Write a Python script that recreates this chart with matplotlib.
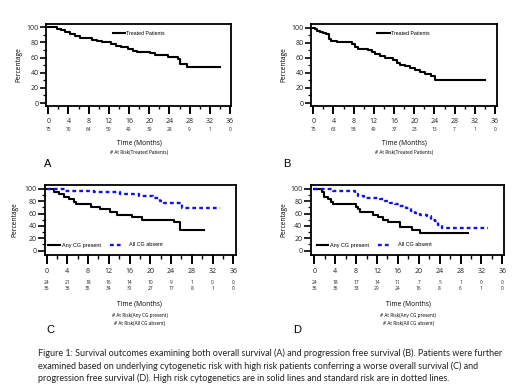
import matplotlib
matplotlib.use("Agg")
import matplotlib.pyplot as plt
from matplotlib.lines import Line2D
from matplotlib.ticker import MultipleLocator
import matplotlib.transforms as mtransforms

W, H = 520, 389
fig = plt.figure(figsize=(W / 100, H / 100), dpi=100)
fig.patch.set_facecolor("white")

TICKFONT = "Open Sans"
LEGFONT = "Liberation Sans"
BLUE = "#1414e0"

# ---------------- data ----------------
months_ticks = [0, 4, 8, 12, 16, 20, 24, 28, 32, 36]

A_times = [0, 1.65, 2.6, 3.3, 4.3, 5.3, 6.3, 8.6, 9.6, 10.6, 12.5, 13.5, 14.5, 15.8,
           16.8, 17.5, 20.1, 21.1, 23.8, 25.7, 26.1, 27.4]
A_surv = [100, 98, 96.5, 94, 91, 88, 85.5, 83, 81.5, 80, 78, 75.5, 73.5, 71,
          68.5, 67, 65.5, 63, 61, 58.5, 52, 47]
A_end = 34
A_risk = [75, 70, 64, 59, 49, 39, 28, 9, 1, 0]

B_times = [0, 0.33, 0.8, 1.3, 1.85, 2.5, 3.2, 3.6, 4.6, 7.6, 8.25, 8.9, 10.9, 11.55,
           12.2, 13.2, 14.2, 15.8, 16.5, 17.2, 18.2, 19.1, 20.1, 21.1, 22.1, 23.4, 24.1]
B_surv = [100, 98, 96, 94, 93, 91, 85.5, 83, 81.5, 78, 74.5, 72, 70, 68,
          65.5, 63, 60, 56.5, 53.5, 51, 49, 47, 44, 41, 39, 36, 30.5]
B_end = 34
B_risk = [75, 63, 58, 49, 37, 23, 13, 7, 1, 0]

C_any_times = [0, 1.5, 2.4, 3.3, 4.3, 5.3, 5.6, 8.5, 10.3, 12.3, 13.5, 16.5, 18.4, 24.5, 25.8]
C_any_surv = [100, 95.8, 91.7, 87.5, 83.3, 79.2, 75, 70.8, 66.7, 62.5, 58.3, 54.2, 50, 45.8, 33.3]
C_any_end = 30.3
C_abs_times = [0, 3.5, 9.2, 14.2, 17.8, 20.6, 21.9, 22.6, 26.1]
C_abs_surv = [100, 97.2, 94.4, 91.7, 88.9, 86.1, 80.6, 77.8, 69.4]
C_abs_end = 33.5
C_risk_any = [24, 21, 18, 16, 14, 10, 9, 1, 0, 0]
C_risk_abs = [36, 36, 35, 34, 31, 27, 17, 8, 1, 0]

D_any_times = [0, 1.5, 1.9, 2.6, 3.2, 3.5, 7.9, 8.4, 8.8, 11.2, 12.2, 13.1, 14.1, 16.5, 18.8, 20.2]
D_any_surv = [100, 95.8, 87.5, 83.3, 79.2, 75, 70.8, 66.7, 62.5, 58.3, 54.2, 50, 45.8, 37.5, 33.3, 29.2]
D_any_end = 29.5
D_abs_times = [0, 3.5, 7.7, 8.3, 9.6, 12.5, 13.5, 14.4, 15.4, 16.3, 17.6, 18.6, 19.2, 20.2,
               21.5, 22.4, 23.1, 23.7, 24.4]
D_abs_surv = [100, 97.2, 91.7, 88.9, 86.1, 83.3, 80.6, 77.8, 75, 72.2, 69.4, 63.9, 61.1, 58.3,
              55.6, 50, 47.2, 41.7, 36.1]
D_abs_end = 33.3
D_risk_any = [24, 18, 17, 14, 11, 7, 5, 1, 0, 0]
D_risk_abs = [36, 36, 33, 29, 24, 16, 8, 6, 1, 0]

caption_lines = [
    "Figure 1: Survival outcomes examining both overall survival (A) and progression free survival (B). Patients were further",
    "examined based on underlying cytogenetic risk with high risk patients conferring a worse overall survival (C) and",
    "progression free survival (D). High risk cytogenetics are in solid lines and standard risk are in dotted lines.",
]


def fy(y):
    return 1 - y / H


def fx(x):
    return x / W


def make_axes(left, right, top, bottom, p0, p36, q0, q100, xtl, ytl):
    ax = fig.add_axes([left / W, 1 - bottom / H, (right - left) / W, (bottom - top) / H])
    sx = (p36 - p0) / 36.0
    sy = (q0 - q100) / 100.0
    ax.set_xlim(0 - (p0 - left) / sx, 36 + (right - p36) / sx)
    ax.set_ylim(0 - (bottom - q0) / sy, 100 + (q100 - top) / sy)
    ax.set_xticks(months_ticks)
    ax.set_yticks([0, 20, 40, 60, 80, 100])
    ax.xaxis.set_minor_locator(MultipleLocator(2))
    ax.yaxis.set_minor_locator(MultipleLocator(10))
    ax.tick_params(axis="x", which="major", length=xtl, width=1.4, direction="out",
                   labelsize=5, pad=3.0, top=False)
    ax.tick_params(axis="x", which="minor", length=xtl * 0.45, width=1.0, direction="out", top=False)
    ax.tick_params(axis="y", which="major", length=ytl, width=1.2, direction="out",
                   labelsize=5, pad=1.2, right=False)
    ax.tick_params(axis="y", which="minor", length=ytl * 0.5, width=0.9, direction="out", right=False)
    for lab in ax.get_xticklabels() + ax.get_yticklabels():
        lab.set_fontfamily(TICKFONT)
        lab.set_color("#222222")
    for sp in ax.spines.values():
        sp.set_linewidth(1.3)
    return ax


def km(ax, times, surv, end, **kw):
    ax.step(list(times) + [end], list(surv) + [surv[-1]], where="post", **kw)


def risk_row(ax, values, ypix, size=3.5):
    tr = mtransforms.blended_transform_factory(ax.transData, fig.transFigure)
    for m, v in zip(months_ticks, values):
        ax.text(m, fy(ypix), str(v), transform=tr, ha="center", va="center",
                fontsize=size, family=TICKFONT, color="#222222")


def centered_label(ax, text, ypix, size, color="black"):
    tr = mtransforms.blended_transform_factory(ax.transData, fig.transFigure)
    ax.text(18, fy(ypix), text, transform=tr, ha="center", va="center",
            fontsize=size, family=TICKFONT, color=color)


def legend_line(x0, x1, ypix, **kw):
    fig.add_artist(Line2D([fx(x0), fx(x1)], [fy(ypix), fy(ypix)], transform=fig.transFigure, **kw))


# ---------------- Panel A ----------------
axA = make_axes(46.2, 231, 24, 106, 48.3, 230, 103, 27.3, 5.5, 4)
km(axA, A_times, A_surv, A_end, color="black", lw=1.5)
risk_row(axA, A_risk, 129.5)
centered_label(axA, "Time (Months)", 142.7, 4.8)
centered_label(axA, "# At Risk(Treated Patients)", 152.7, 3.4)
fig.text(fx(19), fy(65), "Percentage", rotation=90, ha="center", va="center", fontsize=4.8, family=TICKFONT)
legend_line(112.7, 125, 33.3, color="black", lw=1.5)
fig.text(fx(126), fy(33.3), "Treated Patients", ha="left", va="center", fontsize=3.8, family=LEGFONT)
fig.text(fx(48), fy(164), "A", ha="center", va="center", fontsize=8, family=LEGFONT)

# ---------------- Panel B ----------------
axB = make_axes(311, 497.3, 24, 106, 313.3, 495, 103, 27.7, 5.5, 4)
km(axB, B_times, B_surv, B_end, color="black", lw=1.5)
risk_row(axB, B_risk, 129.5)
centered_label(axB, "Time (Months)", 142.7, 4.8)
centered_label(axB, "# At Risk(Treated Patients)", 152.7, 3.4)
fig.text(fx(284), fy(65), "Percentage", rotation=90, ha="center", va="center", fontsize=4.8, family=TICKFONT)
legend_line(377, 390, 33.3, color="black", lw=1.5)
fig.text(fx(391), fy(33.3), "Treated Patients", ha="left", va="center", fontsize=3.8, family=LEGFONT)
fig.text(fx(287), fy(164), "B", ha="center", va="center", fontsize=8, family=LEGFONT)

# ---------------- Panel C ----------------
axC = make_axes(45.2, 235.7, 185, 254.5, 46.5, 233.3, 250.5, 189, 6.5, 5)
km(axC, C_any_times, C_any_surv, C_any_end, color="black", lw=1.5)
km(axC, C_abs_times, C_abs_surv, C_abs_end, color=BLUE, lw=1.7, linestyle=(0, (1.6, 1.3)))
risk_row(axC, C_risk_any, 282)
risk_row(axC, C_risk_abs, 288)
centered_label(axC, "Time (Months)", 304.3, 4.8)
centered_label(axC, "# At Risk(Any CG present)", 315.3, 3.4)
centered_label(axC, "# At Risk(All CG absent)", 323.3, 3.4)
fig.text(fx(15), fy(220), "Percentage", rotation=90, ha="center", va="center", fontsize=4.8, family=TICKFONT)
legend_line(48.3, 60, 245, color="black", lw=1.5)
fig.text(fx(61.7), fy(245), "Any CG present", ha="left", va="center", fontsize=4.0, family=LEGFONT)
legend_line(110, 121, 245, color=BLUE, lw=1.7, linestyle=(0, (1.6, 1.3)))
fig.text(fx(129.3), fy(245), "All CG absent", ha="left", va="center", fontsize=4.0, family=LEGFONT)
fig.text(fx(50), fy(330), "C", ha="center", va="center", fontsize=8, family=LEGFONT)

# ---------------- Panel D ----------------
axD = make_axes(311, 504.3, 185, 254.5, 314.3, 502.3, 250.5, 189, 6.5, 5)
km(axD, D_any_times, D_any_surv, D_any_end, color="black", lw=1.5)
km(axD, D_abs_times, D_abs_surv, D_abs_end, color=BLUE, lw=1.7, linestyle=(0, (1.6, 1.3)))
risk_row(axD, D_risk_any, 282)
risk_row(axD, D_risk_abs, 288)
centered_label(axD, "Time (Months)", 304.3, 4.8)
centered_label(axD, "# At Risk(Any CG present)", 315.3, 3.4)
centered_label(axD, "# At Risk(All CG absent)", 323.3, 3.4)
fig.text(fx(284), fy(220), "Percentage", rotation=90, ha="center", va="center", fontsize=4.8, family=TICKFONT)
legend_line(316.7, 328.3, 245, color="black", lw=1.5)
fig.text(fx(330), fy(245), "Any CG present", ha="left", va="center", fontsize=4.0, family=LEGFONT)
legend_line(378, 389, 245, color=BLUE, lw=1.7, linestyle=(0, (1.6, 1.3)))
fig.text(fx(398.3), fy(245), "All CG absent", ha="left", va="center", fontsize=4.0, family=LEGFONT)
fig.text(fx(296.7), fy(330), "D", ha="center", va="center", fontsize=8, family=LEGFONT)

# ---------------- Caption ----------------
for line, ypix in zip(caption_lines, [353.3, 366.7, 378.3]):
    fig.text(fx(37.7), fy(ypix), line, ha="left", va="center", fontsize=6.5, family="Lato", color="#222222")

fig.savefig("out.png", dpi=100, facecolor="white")
